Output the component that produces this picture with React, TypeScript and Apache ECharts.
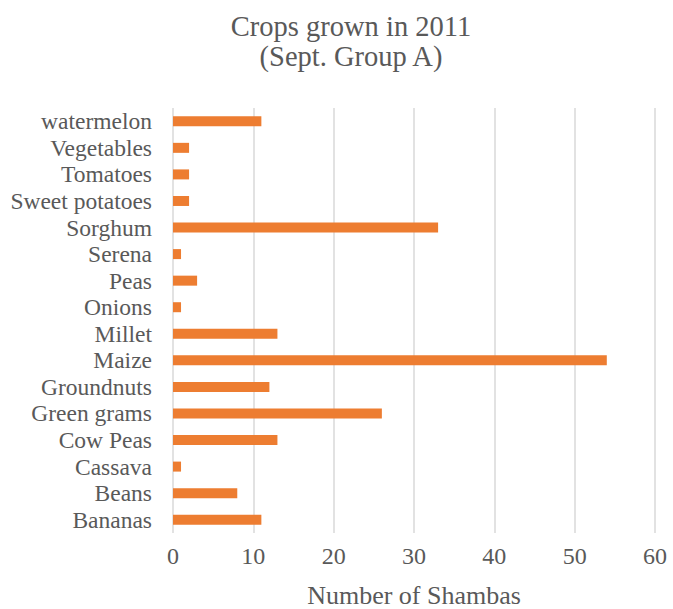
import React, { useEffect, useRef } from "react";
import * as echarts from "echarts";

// Crops listed bottom-to-top, as a category axis draws them
const crops = [
  "Bananas",
  "Beans",
  "Cassava",
  "Cow Peas",
  "Green grams",
  "Groundnuts",
  "Maize",
  "Millet",
  "Onions",
  "Peas",
  "Serena",
  "Sorghum",
  "Sweet potatoes",
  "Tomatoes",
  "Vegetables",
  "watermelon",
];

const shambas = [11, 8, 1, 13, 26, 12, 54, 13, 1, 3, 1, 33, 2, 2, 2, 11];

const titleLines = ["Crops grown in 2011", "(Sept. Group A)"];
const xAxisName = "Number of Shambas";

const serif = "Liberation Serif";
const textGray = "#595959";

export default function App() {
  const ref = useRef<HTMLDivElement>(null);

  useEffect(() => {
    if (!ref.current) return;
    const chart = echarts.init(ref.current, null, { renderer: "svg" });
    chart.setOption({
      animation: false,
      backgroundColor: "#ffffff",
      textStyle: { fontFamily: serif },
      title: {
        text: titleLines.join("\n"),
        left: 346,
        top: 6,
        textAlign: "center",
        textStyle: {
          fontFamily: serif,
          fontSize: 28.5,
          fontWeight: "normal",
          color: textGray,
          lineHeight: 30,
        },
      },
      grid: {
        left: 173,
        right: 18,
        top: 108,
        bottom: 76,
        containLabel: false,
        outerBoundsMode: "none",
      },
      xAxis: {
        type: "value",
        min: 0,
        max: 60,
        interval: 10,
        name: xAxisName,
        nameLocation: "middle",
        nameGap: 49,
        nameTextStyle: {
          fontFamily: serif,
          fontSize: 26,
          color: textGray,
        },
        axisLine: { show: false },
        axisTick: { show: false },
        axisLabel: {
          fontFamily: serif,
          fontSize: 24,
          color: textGray,
          margin: 11,
        },
        splitLine: { lineStyle: { color: "#d9d9d9", width: 1.5 } },
      },
      yAxis: {
        type: "category",
        data: crops,
        axisLine: { show: false },
        axisTick: { show: false },
        axisLabel: {
          fontFamily: serif,
          fontSize: 23.5,
          color: textGray,
          margin: 21,
          interval: 0,
        },
      },
      series: [
        {
          type: "bar",
          data: shambas,
          barWidth: 10,
          itemStyle: { color: "#ed7d31" },
        },
      ],
    });
    return () => chart.dispose();
  }, []);

  return (
    <div
      ref={ref}
      style={{ position: "absolute", left: 0, top: 0, width: 673, height: 609 }}
    />
  );
}
